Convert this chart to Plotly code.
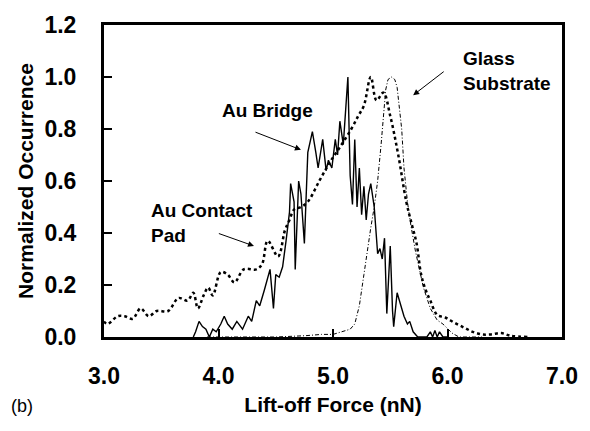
import plotly.graph_objects as go

# Au Contact Pad (thick dotted)
pad_x = [3.00,3.03,3.12,3.18,3.25,3.32,3.39,3.46,3.56,3.65,3.73,3.78,3.82,3.87,3.91,3.95,4.02,4.08,4.14,4.22,4.33,4.38,4.43,4.52,4.58,4.62,4.66,4.72,4.78,4.88,4.97,5.06,5.16,5.22,5.27,5.33,5.38,5.44,5.50,5.57,5.64,5.69,5.73,5.77,5.81,5.85,5.91,5.98,6.06,6.15,6.22,6.30,6.38,6.47,6.55,6.70]
pad_y = [0.06,0.05,0.08,0.08,0.07,0.11,0.08,0.10,0.10,0.15,0.14,0.17,0.11,0.16,0.19,0.16,0.25,0.24,0.21,0.26,0.26,0.28,0.37,0.31,0.41,0.45,0.49,0.50,0.52,0.60,0.67,0.73,0.80,0.85,0.89,1.00,0.91,0.94,0.85,0.70,0.52,0.43,0.36,0.24,0.18,0.14,0.085,0.075,0.055,0.035,0.02,0.01,0.01,0.015,0.005,0.0]

# Au Bridge (thin solid, noisy)
br_x = [3.78,3.80,3.83,3.86,3.89,3.92,3.95,3.98,4.02,4.05,4.08,4.12,4.16,4.21,4.26,4.29,4.33,4.36,4.40,4.45,4.48,4.50,4.53,4.56,4.59,4.62,4.63,4.66,4.67,4.70,4.72,4.75,4.78,4.82,4.85,4.87,4.91,4.94,4.96,4.99,5.02,5.04,5.06,5.09,5.13,5.15,5.17,5.19,5.21,5.23,5.25,5.27,5.29,5.31,5.33,5.36,5.39,5.41,5.43,5.45,5.47,5.50,5.52,5.53,5.56,5.59,5.62,5.65,5.67,5.70,5.74,5.82,5.85,5.87,5.89,5.91,5.93,5.96,6.00]
br_y = [0.00,0.02,0.06,0.04,0.03,0.00,0.03,0.02,0.05,0.08,0.05,0.03,0.06,0.03,0.08,0.06,0.14,0.12,0.18,0.26,0.11,0.24,0.23,0.27,0.37,0.48,0.59,0.52,0.26,0.60,0.55,0.36,0.71,0.79,0.71,0.65,0.76,0.64,0.68,0.65,0.76,0.70,0.83,0.74,1.00,0.62,0.51,0.76,0.50,0.65,0.47,0.58,0.45,0.55,0.59,0.50,0.32,0.34,0.30,0.38,0.09,0.35,0.10,0.04,0.17,0.12,0.08,0.05,0.06,0.02,0.00,0.00,0.02,0.00,0.025,0.00,0.02,0.00,0.00]

# Glass Substrate (thin dash-dot)
gl_x = [3.90,4.50,4.76,4.90,5.00,5.08,5.15,5.19,5.23,5.27,5.30,5.33,5.36,5.39,5.42,5.44,5.46,5.48,5.51,5.54,5.56,5.58,5.60,5.62,5.65,5.68,5.72,5.76,5.79,5.85,5.91,5.96,6.04,6.10,6.30]
gl_y = [0.00,0.00,0.005,0.01,0.01,0.02,0.03,0.05,0.12,0.24,0.34,0.42,0.50,0.60,0.74,0.84,0.95,0.99,1.00,0.99,0.96,0.88,0.80,0.65,0.52,0.43,0.33,0.25,0.19,0.11,0.065,0.05,0.015,0.00,0.00]

x_ticks = [3.0, 4.0, 5.0, 6.0, 7.0]
x_tick_labels = ["3.0", "4.0", "5.0", "6.0", "7.0"]
y_ticks = [0.0, 0.2, 0.4, 0.6, 0.8, 1.0, 1.2]
y_tick_labels = ["0.0", "0.2", "0.4", "0.6", "0.8", "1.0", "1.2"]

FONT = "Liberation Sans, Arial, sans-serif"
W, H = 590, 431
ML, MR, MT, MB = 104, 19, 22, 94

fig = go.Figure()
fig.add_trace(go.Scatter(x=gl_x, y=gl_y, mode="lines",
                         line=dict(color="black", width=1, dash="4px,2px,1px,2px")))
fig.add_trace(go.Scatter(x=br_x, y=br_y, mode="lines",
                         line=dict(color="black", width=1.4)))
fig.add_trace(go.Scatter(x=pad_x, y=pad_y, mode="lines", line_shape="spline",
                         line=dict(color="black", width=2.5, dash="3px,3px")))

axis_common = dict(showline=True, linecolor="black", linewidth=3, mirror=True,
                   ticks="inside", ticklen=8, tickwidth=2, tickcolor="black",
                   showgrid=False, zeroline=False,
                   tickfont=dict(family=FONT, size=23, color="black", weight="bold"))

fig.update_xaxes(range=[3.0, 7.0], tickvals=x_ticks, ticktext=x_tick_labels,
                 ticklabelstandoff=16,
                 title=dict(text="Lift-off Force (nN)", standoff=10,
                            font=dict(family=FONT, size=21, color="black", weight="bold")),
                 **axis_common)
fig.update_yaxes(range=[0.0, 1.2], tickvals=y_ticks, ticktext=y_tick_labels,
                 ticklabelstandoff=20,
                 title=dict(text="Normalized Occurrence", standoff=6,
                            font=dict(family=FONT, size=21, color="black", weight="bold")),
                 **axis_common)

ann_font = dict(family=FONT, size=19, color="black", weight="bold")
pw, ph = W - ML - MR, H - MT - MB
annotations = [
    dict(x=4.43, y=0.87, text="Au Bridge", showarrow=False, xanchor="center", yanchor="middle", font=ann_font),
    dict(x=3.39, y=0.44, text="Au Contact<br>Pad", showarrow=False, xanchor="left", yanchor="middle", align="left", font=ann_font),
    dict(x=6.12, y=1.025, text="Glass<br>Substrate", showarrow=False, xanchor="left", yanchor="middle", align="left", font=ann_font),
    dict(x=4.72, y=0.72, ax=4.31, ay=0.79, axref="x", ayref="y", text="", showarrow=True,
         arrowhead=2, arrowsize=1.2, arrowwidth=1, arrowcolor="black"),
    dict(x=4.31, y=0.35, ax=3.99, ay=0.40, axref="x", ayref="y", text="", showarrow=True,
         arrowhead=2, arrowsize=1.2, arrowwidth=1, arrowcolor="black"),
    dict(x=5.70, y=0.93, ax=5.98, ay=1.025, axref="x", ayref="y", text="", showarrow=True,
         arrowhead=2, arrowsize=1.2, arrowwidth=1, arrowcolor="black"),
    dict(x=(20 - ML) / pw, y=(H - MB - 407) / ph, xref="paper", yref="paper", text="(b)",
         showarrow=False, xanchor="center", yanchor="middle",
         font=dict(family=FONT, size=18, color="black")),
]

fig.update_layout(
    width=W, height=H,
    margin=dict(l=ML, r=MR, t=MT, b=MB),
    paper_bgcolor="white", plot_bgcolor="white",
    showlegend=False,
    annotations=annotations,
)

fig.write_html("out.html", config={"displayModeBar": False},
               post_script="document.body.style.margin='0';document.body.style.overflow='hidden';")
